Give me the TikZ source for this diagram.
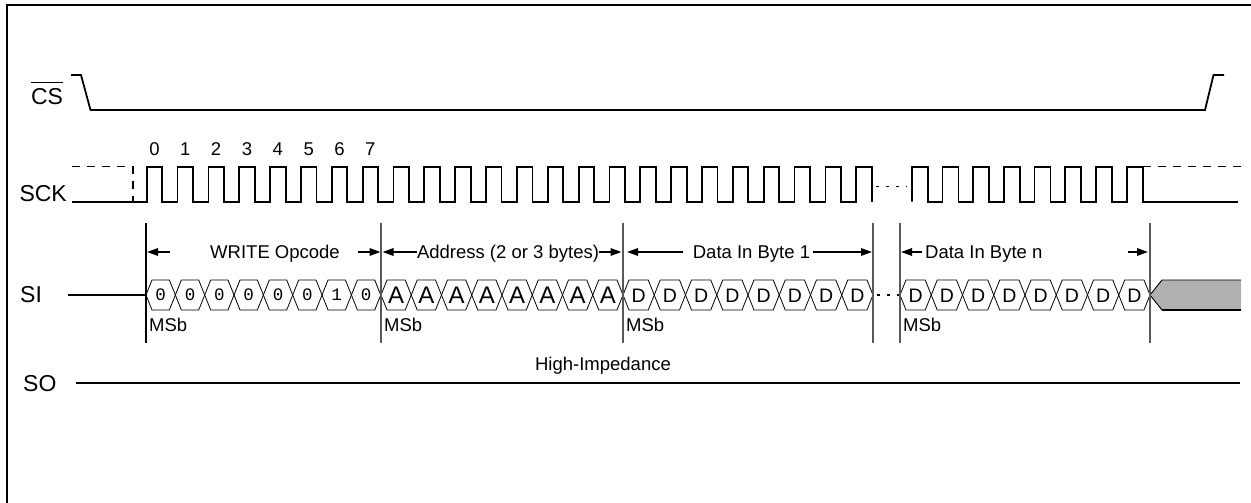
\documentclass[tikz,border=0pt]{standalone}
\usepackage{fontspec}
\setmainfont{Liberation Sans}
\newfontfamily\monof{Liberation Mono}
\usetikzlibrary{arrows.meta}
\begin{document}
\begin{tikzpicture}[x=1pt,y=-1pt,
  sig/.style={line width=1.8pt, line join=miter},
  lbl/.style={font=\fontsize{23}{26}\selectfont, inner sep=0pt},
  txt/.style={font=\fontsize{18.5}{21}\selectfont, inner sep=0pt},
  bitA/.style={font=\fontsize{24}{26}\selectfont, inner sep=0pt, anchor=base},
  bitD/.style={font=\fontsize{19.5}{22}\selectfont, inner sep=0pt, anchor=base},
  bitO/.style={font=\monof\fontsize{17.5}{19}\selectfont, inner sep=0pt, anchor=base},
  hexs/.style={line width=0.8pt},
  bnd/.style={line width=1.2pt, draw=black!65},
  dim/.style={line width=1.6pt, -{Triangle[length=11pt,width=7.5pt]}},
  dashsig/.style={line width=1.5pt, dash pattern=on 8pt off 7pt},
  dotsig/.style={line width=1.3pt, dash pattern=on 3pt off 7pt}
]
\useasboundingbox (0,0) rectangle (1251,503);
% frame
\draw[line width=2.6pt] (7,503) -- (7,5) -- (1251,5);

% CS
\node[lbl, anchor=base] (cs) at (47,104) {CS};
\draw[line width=1.3pt] ([yshift=5pt]cs.north west) -- ([yshift=5pt]cs.north east);
\draw[sig] (71,75) -- (81,75) -- (90.5,110) -- (1205,110) -- (1213.5,75) -- (1224,75);

% SCK
\node[lbl, anchor=base east] (sck) at (67,201.7) {SCK};
\draw[dashsig] (72,166.7) -- (133,166.7) -- (133,201.7);
\draw[sig] (72,201.7)
  foreach \i in {0,...,23} { -- ({146.7+30.85*\i},201.7) -- ++(0,-35) -- ++(15.5,0) -- ++(0,35) };
\draw[dotsig] (876,186.5) -- (907,186.5);
\draw[sig] (911.7,186.5)
  foreach \i in {0,...,7} { -- ({911.7+30.7*\i},201.7) -- ++(0,-35) -- ++(16,0) -- ++(0,35) }
  -- (1238,201.7);
\draw[dashsig] (1143,166.7) -- (1241,166.7);
\foreach \d in {0,...,7} {
  \node[txt, anchor=base] (n\d) at ({154.4+30.85*\d},155.6) {\d};
}

% SI
\node[lbl, anchor=base west] (si) at (20,302.5) {SI};
\draw[sig] (68,295) -- (146,295);
\foreach \b [count=\i from 0] in {0,0,0,0,0,0,1,0} {
  \pgfmathsetmacro\xa{146+29.34*\i}
  \pgfmathsetmacro\xb{\xa+29.34}
  \draw[hexs] (\xa,295) -- (\xa+6,280) -- (\xb-6,280) -- (\xb,295) -- (\xb-6,310) -- (\xa+6,310) -- cycle;
  \node[bitO] (op\i) at ({(\xa+\xb)/2},300.8) {\b};
}
\foreach \i in {0,...,7} {
  \pgfmathsetmacro\xa{381+30.25*\i}
  \pgfmathsetmacro\xb{\xa+30.25}
  \draw[hexs] (\xa,295) -- (\xa+6,280) -- (\xb-6,280) -- (\xb,295) -- (\xb-6,310) -- (\xa+6,310) -- cycle;
  \node[bitA] (ad\i) at ({(\xa+\xb)/2},303.6) {A};
}
\foreach \i in {0,...,7} {
  \pgfmathsetmacro\xa{623+31.25*\i}
  \pgfmathsetmacro\xb{\xa+31.25}
  \draw[hexs] (\xa,295) -- (\xa+6,280) -- (\xb-6,280) -- (\xb,295) -- (\xb-6,310) -- (\xa+6,310) -- cycle;
  \node[bitD] (da\i) at ({(\xa+\xb)/2},302) {D};
}
\draw[dotsig] (877,295) -- (899,295);
\foreach \i in {0,...,7} {
  \pgfmathsetmacro\xa{900+31.25*\i}
  \pgfmathsetmacro\xb{\xa+31.25}
  \draw[hexs] (\xa,295) -- (\xa+6,280) -- (\xb-6,280) -- (\xb,295) -- (\xb-6,310) -- (\xa+6,310) -- cycle;
  \node[bitD] (dn\i) at ({(\xa+\xb)/2},302) {D};
}
\fill[gray!62] (1150,295) -- (1162,280) -- (1241,280) -- (1241,310) -- (1162,310) -- cycle;
\draw[line width=0.9pt] (1241,280) -- (1162,280) -- (1150,295) -- (1162,310);
\draw[line width=2pt] (1162,310) -- (1241,310);

% boundaries
\draw[line width=2.4pt] (146,223) -- (146,343);
\foreach \x in {381,623,873,900,1150} \draw[bnd] (\x,223) -- (\x,343);

% dimension arrows
\coordinate (b1) at (146,252);
\coordinate (b2) at (381,252);
\coordinate (b3) at (623,252);
\coordinate (b4) at (873,252);
\coordinate (b5) at (900,252);
\coordinate (b6) at (1150,252);
\node[txt, anchor=base] (wr) at (275,258.6) {WRITE Opcode};
\coordinate (wrl) at (170,252);
\coordinate (wrr) at (358,252);
\draw[dim, shorten >=1pt] (wrl) -- (b1);
\draw[dim, shorten >=0.5pt] (wrr) -- (b2);
\node[txt, anchor=base] (ad) at (508,258.6) {Address (2 or 3 bytes)};
\draw[dim, shorten >=1.5pt] (ad.west |- b2) -- (b2);
\draw[dim, shorten >=1.5pt] (ad.east |- b3) -- (b3);
\node[txt, anchor=base] (d1) at (751.5,258.6) {Data In Byte 1};
\coordinate (d1l) at (683,252);
\coordinate (d1r) at (813,252);
\draw[dim, shorten >=4pt] (d1l) -- (b3);
\draw[dim, shorten >=1pt] (d1r) -- (b4);
\node[txt, anchor=base west] (dn) at (925,258.6) {Data In Byte n};
\coordinate (dnl) at (922,252);
\coordinate (dnr) at (1128,252);
\draw[dim, shorten >=1pt] (dnl) -- (b5);
\draw[dim, shorten >=2pt] (dnr) -- (b6);

% MSb
\node[txt, anchor=base west] (m1) at (149,331) {MSb};
\node[txt, anchor=base west] (m2) at (384,331) {MSb};
\node[txt, anchor=base west] (m3) at (626,331) {MSb};
\node[txt, anchor=base west] (m4) at (903,331) {MSb};

% SO
\node[lbl, anchor=base west] (so) at (23,391) {SO};
\draw[sig] (76,383) -- (1240,383);
\node[txt, anchor=base] (hz) at (603,370.6) {High-Impedance};
\end{tikzpicture}
\end{document}
